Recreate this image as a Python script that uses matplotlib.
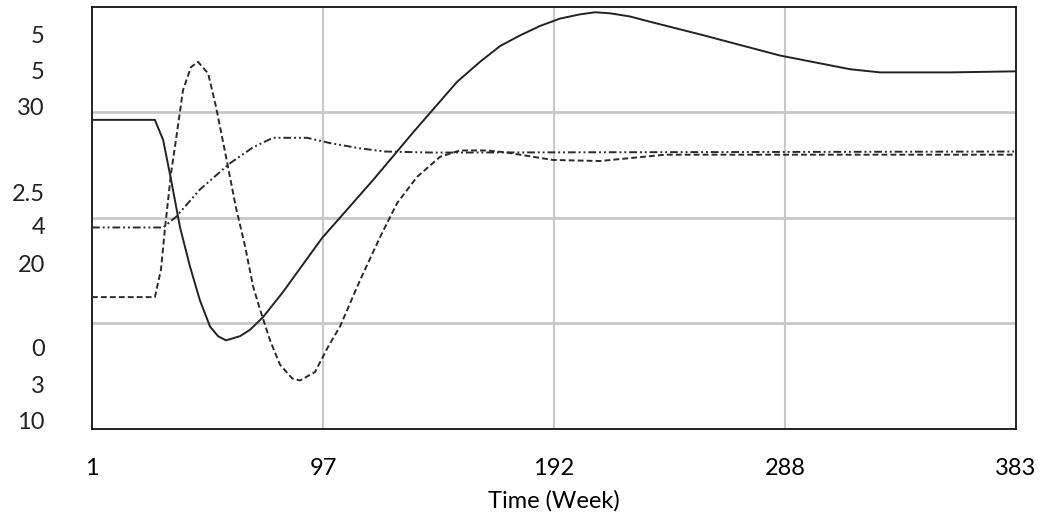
import matplotlib
matplotlib.use("Agg")
import matplotlib.pyplot as plt

# time axis in weeks
t_start, t_end = 1, 383
x_ticks = [1, 97, 192, 288, 383]

# solid line (normalised to four grid bands, 0..4)
t_solid = [1, 27.0, 30.4, 33.7, 37.4, 41.5, 45.6, 49.8, 53.1, 56.4, 62.2, 66.3,
           71.7, 80.0, 96.1, 117.2, 133.7, 151.9, 161.4, 169.7, 177.9, 186.2,
           194.5, 202.7, 209.0, 215.2, 223.4, 231.7, 252.4, 285.4, 314.4, 326.8,
           339.2, 355.7, 383]
v_solid = [2.93, 2.93, 2.74, 2.36, 1.91, 1.54, 1.22, 0.97, 0.88, 0.84, 0.88, 0.94,
           1.06, 1.30, 1.81, 2.36, 2.81, 3.29, 3.48, 3.63, 3.73, 3.82,
           3.89, 3.93, 3.95, 3.94, 3.91, 3.86, 3.74, 3.54, 3.41, 3.38,
           3.38, 3.38, 3.39]

# dashed line
t_dash = [1, 27.0, 29.5, 31.2, 33.7, 35.7, 38.6, 41.9, 44.8, 49.0, 52.3, 56.4,
          60.5, 64.3, 67.6, 70.5, 74.6, 78.7, 83.7, 87.0, 93.2, 98.6, 103.5,
          111.8, 120.1, 127.1, 135.4, 144.9, 153.1, 164.3, 172.6, 183.3, 191.6,
          211.0, 237.9, 383]
v_dash = [1.25, 1.25, 1.51, 1.91, 2.43, 2.74, 3.21, 3.43, 3.48, 3.37, 3.05, 2.58,
          2.10, 1.73, 1.35, 1.13, 0.84, 0.61, 0.48, 0.46, 0.54, 0.78, 0.97,
          1.41, 1.82, 2.14, 2.39, 2.58, 2.64, 2.64, 2.62, 2.58, 2.55,
          2.54, 2.60, 2.60]

# dash-dot-dot line
t_dd = [1, 30.4, 35.7, 45.6, 58.1, 67.6, 75.8, 89.9, 99.4, 111.8, 122.1, 142.0, 383]
v_dd = [1.91, 1.91, 2.01, 2.27, 2.52, 2.67, 2.76, 2.76, 2.71, 2.66, 2.63, 2.62, 2.63]

# stacked y-axis labels (Vensim style)
y_labels = ["5", "5", "30", "2.5", "4", "20", "0", "3", "10"]
y_label_pos = [3.72, 3.38, 3.04, 2.22, 1.91, 1.55, 0.75, 0.40, 0.06]

plt.rcParams['font.family'] = ['Lato', 'DejaVu Sans']

fig = plt.figure(figsize=(10.48, 5.21), dpi=100)
ax = fig.add_axes([0.0878, 0.1766, 0.8817, 0.81])

for g in [1, 2, 3]:
    ax.axhline(g, color='#c8c8c8', lw=2, zorder=1)
span = t_end - t_start
for q in [0.25, 0.5, 0.75]:
    ax.axvline(t_start + q * span, color='#c8c8c8', lw=1.5, zorder=1)

ax.plot(t_solid, v_solid, color='#222222', lw=1.4, zorder=3)
ax.plot(t_dash, v_dash, color='#2a2a2a', lw=1.4, dashes=(3, 1.6), zorder=3)
ax.plot(t_dd, v_dd, color='#2a2a2a', lw=1.4, dashes=(4, 1.5, 1, 1.5, 1, 1.5), zorder=3)

ax.set_xlim(t_start, t_end)
ax.set_ylim(0, 4)
ax.set_xticks([t_start + q * span for q in [0, 0.25, 0.5, 0.75, 1]])
ax.set_xticklabels([str(v) for v in x_ticks], fontsize=17)
ax.tick_params(axis='x', length=0, pad=21)
ax.set_yticks([])
for s in ax.spines.values():
    s.set_color('#111111')
    s.set_linewidth(1.3)

for lab, pos in zip(y_labels, y_label_pos):
    ax.text(-0.051, pos, lab, transform=ax.get_yaxis_transform(),
            ha='right', va='center', fontsize=17, color='#222222')

ax.set_xlabel("Time (Week)", fontsize=17, labelpad=8)

fig.savefig("out.png", dpi=100)
